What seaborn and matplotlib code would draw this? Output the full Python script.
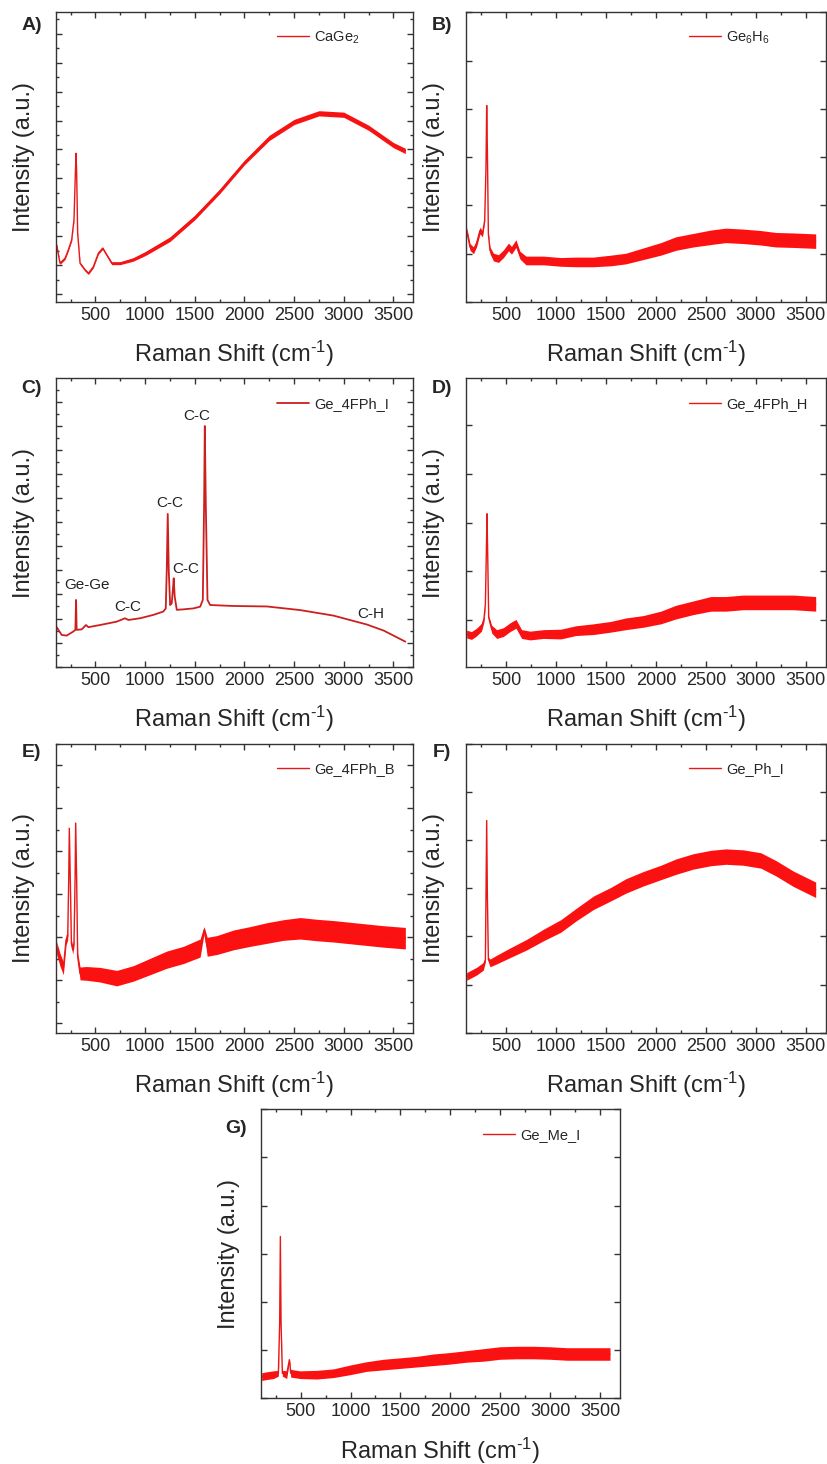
import numpy as np
import seaborn as sns
import matplotlib.pyplot as plt
from matplotlib.ticker import MultipleLocator, NullLocator

# A) CaGe2
x_a = [110, 143, 194, 227, 261, 284, 298, 305, 311, 321, 345, 395, 429, 479, 530, 573, 613, 664, 748, 880,
       1000, 1250, 1500, 1750, 2000, 2250, 2500, 2750, 3000, 3250, 3500, 3620]
y_a = [1.70, 1.07, 1.24, 1.53, 1.88, 2.57, 4.18, 4.87, 4.18, 2.11, 1.07, 0.84, 0.72, 0.95, 1.42, 1.59, 1.36, 1.07, 1.07, 1.20,
       1.40, 1.90, 2.65, 3.55, 4.55, 5.40, 5.95, 6.25, 6.20, 5.75, 5.15, 4.95]
w_a = [0.04, 0.04, 0.04, 0.04, 0.04, 0.03, 0.01, 0.01, 0.01, 0.03, 0.04, 0.04, 0.04, 0.04, 0.04, 0.04, 0.04, 0.05, 0.05, 0.06,
       0.07, 0.08, 0.08, 0.08, 0.08, 0.09, 0.09, 0.09, 0.09, 0.09, 0.09, 0.09]

# B) Ge6H6
x_b = [107, 140, 175, 205, 240, 265, 287, 300, 307, 314, 324, 340, 375, 425, 475, 525, 555, 600, 640, 700,
       875, 1050, 1200, 1375, 1550, 1700, 1875, 2050, 2200, 2375, 2550, 2700, 2875, 3050, 3200, 3375, 3600]
y_b = [0.48, 0.14, 0.07, 0.21, 0.48, 0.41, 0.69, 1.79, 3.07, 2.14, 0.41, 0.07, -0.07, -0.10, 0.0, 0.14, 0.07, 0.21, -0.03, -0.14,
       -0.14, -0.17, -0.17, -0.17, -0.14, -0.10, 0.0, 0.10, 0.21, 0.28, 0.34, 0.38, 0.36, 0.33, 0.29, 0.28, 0.26]
w_b = [0.07, 0.07, 0.07, 0.07, 0.07, 0.06, 0.03, 0.01, 0.01, 0.01, 0.03, 0.07, 0.08, 0.08, 0.08, 0.08, 0.08, 0.08, 0.08, 0.09,
       0.09, 0.09, 0.10, 0.10, 0.11, 0.11, 0.12, 0.13, 0.14, 0.14, 0.15, 0.15, 0.15, 0.15, 0.15, 0.15, 0.15]

# C) Ge_4FPh_I
x_c = [110, 160, 210, 277, 298, 305, 311, 362, 405, 429, 546, 714, 798, 832, 949, 1083, 1184, 1208, 1218, 1228,
       1238, 1252, 1268, 1282, 1288, 1298, 1319, 1386, 1487, 1554, 1581, 1594, 1601, 1611, 1628, 1655, 1890, 2226,
       2561, 2897, 3233, 3401, 3620]
y_c = [0.64, 0.32, 0.29, 0.46, 0.53, 1.77, 0.53, 0.55, 0.73, 0.64, 0.73, 0.87, 1.01, 0.94, 1.01, 1.15, 1.29, 1.42, 3.02, 5.34,
       3.02, 1.56, 1.63, 2.32, 2.67, 1.91, 1.36, 1.38, 1.42, 1.49, 1.77, 5.78, 8.99, 5.78, 1.77, 1.56, 1.52, 1.50,
       1.35, 1.12, 0.75, 0.50, 0.04]
peak_labels_c = ["Ge-Ge", "C-C", "C-C", "C-C", "C-C", "C-H"]
peak_x_c = [417, 829, 1251, 1405, 1517, 3267]
peak_y_c = [2.39, 1.49, 5.78, 3.06, 9.42, 1.18]

# D) Ge_4FPh_H
x_d = [107, 155, 205, 255, 280, 294, 304, 310, 317, 327, 357, 407, 474, 540, 600, 657, 740, 875, 1050, 1200,
       1375, 1550, 1700, 1875, 2050, 2200, 2375, 2550, 2700, 2875, 3050, 3200, 3375, 3600]
y_d = [-0.29, -0.32, -0.25, -0.15, 0.02, 0.33, 1.43, 2.18, 1.36, 0.05, -0.19, -0.29, -0.25, -0.15, -0.08, -0.29, -0.32, -0.29, -0.29, -0.22,
       -0.19, -0.14, -0.08, -0.03, 0.05, 0.16, 0.25, 0.33, 0.33, 0.36, 0.36, 0.36, 0.36, 0.33]
w_d = [0.08, 0.08, 0.08, 0.08, 0.06, 0.03, 0.01, 0.01, 0.01, 0.04, 0.08, 0.09, 0.09, 0.09, 0.09, 0.09, 0.09, 0.09, 0.10, 0.10,
       0.11, 0.11, 0.12, 0.12, 0.13, 0.14, 0.14, 0.15, 0.15, 0.15, 0.15, 0.15, 0.15, 0.15]

# E) Ge_4FPh_B
x_e = [110, 143, 177, 204, 221, 231, 237, 247, 258, 271, 284, 295, 301, 311, 321, 345, 412, 546, 714, 882,
       1050, 1218, 1386, 1554, 1594, 1625, 1722, 1890, 2058, 2226, 2393, 2561, 2729, 2897, 3065, 3233, 3401, 3620]
y_e = [1.75, 1.48, 1.28, 1.94, 2.02, 3.34, 4.54, 3.34, 1.86, 1.71, 1.86, 3.34, 4.66, 3.34, 1.55, 1.16, 1.16, 1.13, 1.05, 1.16,
       1.32, 1.48, 1.59, 1.75, 2.17, 1.78, 1.82, 1.94, 2.02, 2.10, 2.17, 2.21, 2.17, 2.14, 2.10, 2.06, 2.02, 1.98]
w_e = [0.15, 0.15, 0.15, 0.12, 0.08, 0.02, 0.02, 0.02, 0.08, 0.10, 0.08, 0.02, 0.02, 0.02, 0.10, 0.15, 0.16, 0.17, 0.18, 0.18,
       0.19, 0.20, 0.20, 0.21, 0.08, 0.22, 0.22, 0.23, 0.23, 0.24, 0.24, 0.25, 0.25, 0.25, 0.25, 0.25, 0.25, 0.25]

# F) Ge_Ph_I
x_f = [107, 207, 273, 294, 300, 307, 314, 324, 340, 407, 540, 707, 875, 1050, 1200, 1375, 1550, 1700, 1875, 2050,
       2200, 2375, 2550, 2700, 2875, 3050, 3200, 3375, 3600]
y_f = [0.17, 0.28, 0.38, 0.52, 1.83, 3.41, 1.83, 0.52, 0.45, 0.52, 0.66, 0.83, 1.03, 1.22, 1.45, 1.70, 1.88, 2.05, 2.20, 2.33,
       2.45, 2.56, 2.63, 2.66, 2.64, 2.58, 2.42, 2.20, 1.97]
w_f = [0.08, 0.08, 0.08, 0.05, 0.02, 0.01, 0.02, 0.05, 0.08, 0.09, 0.10, 0.11, 0.12, 0.13, 0.13, 0.14, 0.14, 0.15, 0.15, 0.15,
       0.16, 0.16, 0.16, 0.16, 0.16, 0.16, 0.16, 0.16, 0.16]

# G) Ge_Me_I
x_g = [110, 160, 227, 277, 290, 297, 304, 317, 360, 387, 401, 494, 661, 828, 995, 1162, 1329, 1496, 1663, 1830,
       1997, 2164, 2331, 2498, 2665, 2832, 2999, 3167, 3334, 3600]
y_g = [-0.55, -0.53, -0.51, -0.48, 0.56, 2.36, 0.56, -0.48, -0.51, -0.20, -0.48, -0.51, -0.51, -0.48, -0.41, -0.34, -0.30, -0.27, -0.24, -0.20,
       -0.17, -0.13, -0.10, -0.06, -0.05, -0.05, -0.06, -0.08, -0.08, -0.08]
w_g = [0.08, 0.08, 0.08, 0.06, 0.02, 0.01, 0.02, 0.06, 0.08, 0.04, 0.08, 0.08, 0.09, 0.09, 0.10, 0.10, 0.11, 0.11, 0.11, 0.12,
       0.12, 0.12, 0.13, 0.13, 0.13, 0.13, 0.13, 0.13, 0.13, 0.13]

sns.set_style('ticks')
plt.rcParams['font.family'] = ['Liberation Sans', 'DejaVu Sans']
plt.rcParams['mathtext.fontset'] = 'custom'
plt.rcParams['mathtext.rm'] = 'Liberation Sans'
plt.rcParams['mathtext.it'] = 'Liberation Sans:italic'
plt.rcParams['mathtext.default'] = 'regular'

W, H = 828, 1464
fig = plt.figure(figsize=(W / 100, H / 100), dpi=100)


def rect(left, top, right, bottom):
    return [left / W, 1 - bottom / H, (right - left) / W, (bottom - top) / H]


# letter, legend label, x, y, noise half-width, ylim, minor y ticks, axes box (px), letter y
panels = [
    ('A)', 'CaGe$_2$', x_a, y_a, w_a, (-0.27, 9.74), True, rect(55.7, 12.3, 413.3, 302), 0.956),
    ('B)', 'Ge$_6$H$_6$', x_b, y_b, w_b, (-1.0, 5.0), False, rect(466, 12.3, 825.7, 302), 0.956),
    ('C)', 'Ge_4FPh_I', x_c, y_c, None, (-1.0, 10.97), True, rect(55.7, 378.3, 413.3, 666.7), 0.966),
    ('D)', 'Ge_4FPh_H', x_d, y_d, w_d, (-0.96, 4.96), False, rect(466, 378.3, 825.7, 666.7), 0.966),
    ('E)', 'Ge_4FPh_B', x_e, y_e, w_e, (-0.22, 6.5), True, rect(55.7, 744, 413.3, 1032.7), 0.969),
    ('F)', 'Ge_Ph_I', x_f, y_f, w_f, (-1.0, 5.0), False, rect(466, 744, 825.7, 1032.7), 0.969),
    ('G)', 'Ge_Me_I', x_g, y_g, w_g, (-1.0, 5.0), False, rect(260.7, 1109.3, 620, 1398.3), 0.932),
]

for letter, label, xs, ys, ws, ylim, minor, box, ly in panels:
    ax = fig.add_axes(box)
    if ws is not None:
        lo = np.array(ys) - np.array(ws)
        hi = np.array(ys) + np.array(ws)
        ax.fill_between(xs, lo, hi, color='#ff1010', lw=0)
        lc, lw = '#e81818', 1.0
    else:
        lc, lw = '#cc2020', 1.3
    sns.lineplot(x=xs, y=ys, ax=ax, color=lc, lw=lw)
    line = ax.lines[-1]

    ax.set_xlim(100, 3700)
    ax.set_ylim(*ylim)
    ax.xaxis.set_major_locator(MultipleLocator(500))
    ax.xaxis.set_minor_locator(MultipleLocator(250))
    ax.yaxis.set_major_locator(MultipleLocator(1))
    ax.yaxis.set_minor_locator(MultipleLocator(0.5) if minor else NullLocator())
    ax.tick_params(which='both', direction='in', top=True, right=True,
                   labelleft=False, color='#333333', width=1.0)
    ax.tick_params(which='major', length=4.5)
    ax.tick_params(which='minor', length=2.2)
    ax.tick_params(axis='x', labelsize=13, pad=3.5)
    for sp in ax.spines.values():
        sp.set_color('#333333')
        sp.set_linewidth(1.0)

    ax.set_xlabel('Raman Shift (cm$^{\u20101}$)', fontsize=17, labelpad=11)
    ax.set_ylabel('Intensity (a.u.)', fontsize=17, labelpad=15)

    ax.legend([line], [label], loc='center left', bbox_to_anchor=(0.619, 0.912),
              frameon=False, borderpad=0, borderaxespad=0, handlelength=2.2,
              handletextpad=0.35, fontsize=10.5)
    ax.text(-0.068, ly, letter, transform=ax.transAxes, fontsize=14,
            fontweight='bold', ha='center', va='center')

    if letter == 'C)':
        for t, px, py in zip(peak_labels_c, peak_x_c, peak_y_c):
            ax.text(px, py, t, fontsize=11, color='#222222', ha='center', va='center')

fig.savefig('out.png', dpi=100)
